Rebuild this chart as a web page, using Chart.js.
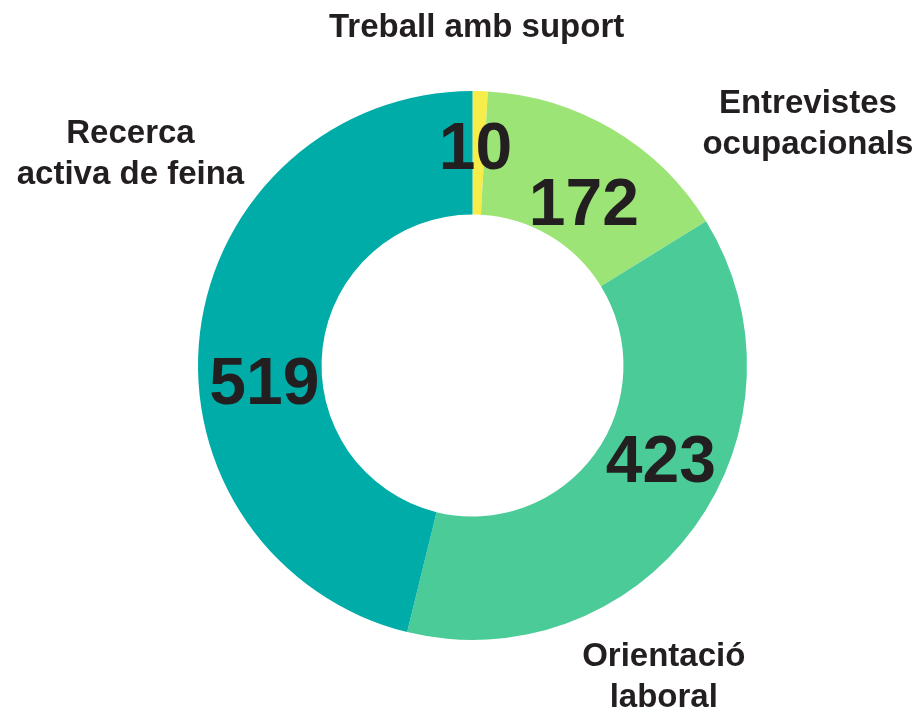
<!DOCTYPE html>
<html>
<head>
<meta charset="utf-8">
<script src="https://cdn.jsdelivr.net/npm/chart.js@4/dist/chart.umd.min.js"></script>
<style>
  html, body { margin: 0; padding: 0; background: #fff; }
  #wrap { width: 917px; height: 713px; }
</style>
</head>
<body>
<div id="wrap"><canvas id="chart"></canvas></div>
<script>
// data
const categories = [
    ['Treball amb suport'],
    ['Entrevistes', 'ocupacionals'],
    ['Orientació', 'laboral'],
    ['Recerca', 'activa de feina']
];
const values = [10, 172, 423, 519];
const colors = ['#f6ec4a', '#9de477', '#4acb98', '#00aca8'];

// where the numbers sit: shift of angle (deg) from slice middle, and place across the ring (0 inner, 1 outer)
const numShift = [-0.8, 4, -9, -12];
const numDepth = [0.53, 0.36, 0.49, 0.47];
// category names: angle (deg from top, clockwise) and distance from the centre
const nameAngle = [0.7, 54.3, 148.5, 301.7];
const nameDist = [338, 413, 366, 402];

const textColor = '#231f20';

const ringLabels = {
    id: 'ringLabels',
    afterDatasetsDraw(chart) {
        let ctx = chart.ctx;
        let arcs = chart.getDatasetMeta(0).data;
        ctx.save();
        ctx.fillStyle = textColor;
        ctx.textAlign = 'center';
        ctx.textBaseline = 'middle';
        arcs.forEach((arc, i) => {
            let p = arc.getProps(['x', 'y', 'startAngle', 'endAngle', 'innerRadius', 'outerRadius'], true);
            let a = (p.startAngle + p.endAngle) / 2 + numShift[i] * Math.PI / 180;
            let r = p.innerRadius + (p.outerRadius - p.innerRadius) * numDepth[i];
            ctx.font = 'bold 66px "Liberation Sans", Arial, sans-serif';
            ctx.fillText(String(values[i]), p.x + r * Math.cos(a), p.y + r * Math.sin(a) + 2);

            let b = (nameAngle[i] - 90) * Math.PI / 180;
            let nx = p.x + nameDist[i] * Math.cos(b);
            let ny = p.y + nameDist[i] * Math.sin(b);
            ctx.font = 'bold 33px "Liberation Sans", Arial, sans-serif';
            let lines = categories[i];
            let lh = 41;
            lines.forEach((t, j) => {
                ctx.fillText(t, nx, ny + (j - (lines.length - 1) / 2) * lh);
            });
        });
        ctx.restore();
    }
};

let ctx = document.getElementById('chart').getContext('2d');
new Chart(ctx, {
    type: 'doughnut',
    data: {
        labels: categories.map(c => c.join(' ')),
        datasets: [{
            data: values,
            backgroundColor: colors,
            borderWidth: 0
        }]
    },
    options: {
        responsive: true,
        maintainAspectRatio: false,
        animation: false,
        cutout: '55%',
        layout: { padding: { top: 91, bottom: 73, left: 197, right: 169 } },
        plugins: {
            legend: { display: false },
            tooltip: { enabled: false }
        }
    },
    plugins: [ringLabels]
});
</script>
</body>
</html>
